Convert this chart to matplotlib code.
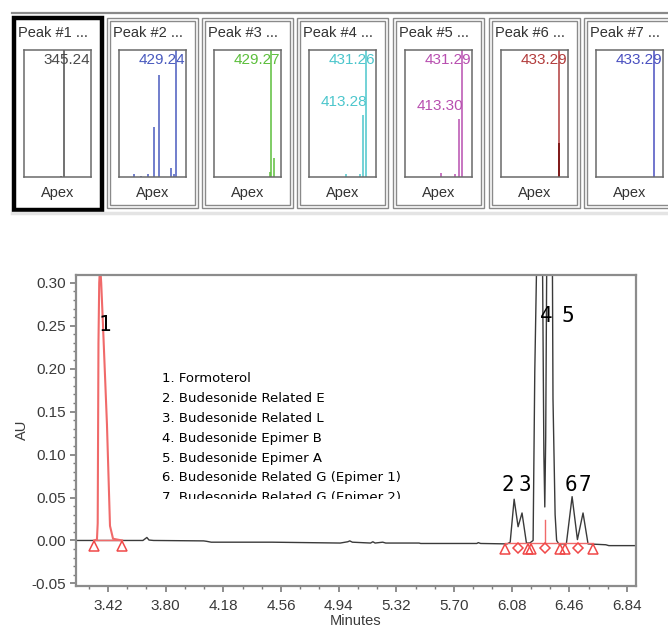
import numpy as np
import matplotlib.pyplot as plt
from matplotlib.patches import Rectangle
from matplotlib.ticker import MultipleLocator

W, H = 668, 627

# --- chromatogram (minutes, AU) ---
trace_t = [3.209, 3.330, 3.50, 3.65, 3.665, 3.676, 3.69, 3.72, 4.05, 4.07, 4.10, 4.50,
           4.95, 5.000, 5.013, 5.03, 5.15, 5.165, 5.18, 5.23, 5.25, 5.47, 5.48, 5.85,
           5.86, 5.875, 6.05, 6.07, 6.096, 6.122, 6.148, 6.177, 6.199, 6.221, 6.232,
           6.245, 6.262, 6.276, 6.284, 6.292, 6.298, 6.304, 6.311, 6.330, 6.348, 6.352,
           6.366, 6.376, 6.39, 6.44, 6.478, 6.513, 6.550, 6.583, 6.70, 6.72, 6.899]
trace_au = [0.000, 0.000, 0.000, 0.000, 0.002, 0.0035, 0.0005, 0.000, -0.0005, -0.001,
            -0.002, -0.002, -0.003, -0.0015, -0.0005, -0.002, -0.003, -0.0015, -0.003,
            -0.002, -0.003, -0.003, -0.0035, -0.0035, -0.0025, -0.0035, -0.004, -0.002,
            0.048, 0.016, 0.032, -0.003, -0.003, 0.000, 0.196, 0.33, 0.60, 0.50, 0.30,
            0.10, 0.039, 0.12, 0.33, 0.55, 0.33, 0.165, 0.03, 0.000, -0.004, -0.004,
            0.051, 0.001, 0.032, -0.004, -0.005, -0.006, -0.006]

peak1_t = [3.328, 3.347, 3.352, 3.357, 3.362, 3.368, 3.375, 3.387, 3.413, 3.433, 3.453, 3.512]
peak1_au = [0.000, 0.001, 0.020, 0.230, 0.300, 0.320, 0.300, 0.250, 0.135, 0.017, 0.002, 0.000]

base1_t = [3.328, 3.512]
base1_au = [0.000, 0.000]
base2_t = [6.034, 6.614]
base2_au = [-0.003, -0.003]
tri_t = [3.328, 3.512, 6.034, 6.188, 6.204, 6.396, 6.430, 6.614]
tri_au = [-0.006, -0.006, -0.010, -0.010, -0.010, -0.010, -0.010, -0.010]
dia_t = [6.120, 6.298, 6.515]
dia_au = [-0.009, -0.009, -0.009]
drop_t = 6.298
drop_au = [-0.003, 0.024]

peak_nums = ["1", "2", "3", "4", "5", "6", "7"]
peak_num_t = [3.400, 6.056, 6.164, 6.309, 6.449, 6.471, 6.560]
peak_num_au = [0.251, 0.064, 0.064, 0.261, 0.261, 0.064, 0.064]

peak_names = ["1. Formoterol",
              "2. Budesonide Related E",
              "3. Budesonide Related L",
              "4. Budesonide Epimer B",
              "5. Budesonide Epimer A",
              "6. Budesonide Related G (Epimer 1)",
              "7. Budesonide Related G (Epimer 2)"]

xticks = [3.42, 3.80, 4.18, 4.56, 4.94, 5.32, 5.70, 6.08, 6.46, 6.84]
yticks = [-0.05, 0.00, 0.05, 0.10, 0.15, 0.20, 0.25, 0.30]

# --- apex spectra thumbnails (m/z, relative intensity) ---
spec_titles = ["Peak #1 ...", "Peak #2 ...", "Peak #3 ...", "Peak #4 ...",
               "Peak #5 ...", "Peak #6 ...", "Peak #7 ..."]
spec_mz = [[330, 345.24],
           [222, 258, 291, 319, 345, 406, 419, 429.24],
           [426, 429.27, 446],
           [329, 400, 413.28, 431.26],
           [325, 395, 413.30, 431.29],
           [433.29],
           [433.29]]
spec_int = [[0.01, 1.0],
            [0.02, 0.01, 0.02, 0.39, 0.80, 0.07, 0.02, 1.0],
            [0.04, 1.0, 0.15],
            [0.02, 0.02, 0.49, 1.0],
            [0.03, 0.02, 0.46, 1.0],
            [1.0],
            [1.0]]
spec_top = ["345.24", "429.24", "429.27", "431.26", "431.29", "433.29", "433.29"]
spec_second = [None, None, None, "413.28", "413.30", None, None]
spec_colors = ["#4a4a4a", "#4a5bbf", "#5cbf3c", "#4cc6cc", "#b84fb0", "#b23c3c", "#4a50c0"]

plt.rcParams['font.family'] = ['Liberation Sans', 'DejaVu Sans']


def fig_rect(x0, y0, x1, y1):
    return [x0 / W, 1 - y1 / H, (x1 - x0) / W, (y1 - y0) / H]


def fig_box(x0, y0, x1, y1, **kw):
    r = Rectangle((x0 / W, 1 - y1 / H), (x1 - x0) / W, (y1 - y0) / H,
                  transform=fig.transFigure, fill=False, **kw)
    fig.add_artist(r)


fig = plt.figure(figsize=(W / 100, H / 100), dpi=100)

# top strip
fig.add_artist(plt.Line2D([12 / W, 1], [1 - 13 / H] * 2, transform=fig.transFigure,
                          color="#8a8a8a", lw=1.6))
fig.add_artist(plt.Line2D([12 / W, 1], [1 - 213 / H] * 2, transform=fig.transFigure,
                          color="#e4e4e4", lw=2.5))

box_left = [12, 107, 202, 297, 393, 489, 584]
for i in range(7):
    bl = box_left[i]
    if i == 0:
        fig_box(bl + 2, 18, bl + 90, 210, edgecolor="black", lw=3.2)
    else:
        fig_box(bl, 18, bl + 91, 208, edgecolor="#8a8a8a", lw=1.0)
        fig_box(bl + 3, 21, bl + 88, 205, edgecolor="#8a8a8a", lw=1.0)
    fig.text((bl + 6) / W, 1 - 33 / H, spec_titles[i], fontsize=10.5, color="#333333",
             ha="left", va="center")
    fig.text((bl + 46) / W, 1 - 193 / H, "Apex", fontsize=10.5, color="#333333",
             ha="center", va="center")

    ax_s = fig.add_axes(fig_rect(bl + 12, 50, bl + 79, 177))
    ax_s.set_xlim(150, 478)
    ax_s.set_ylim(0, 1.0)
    ax_s.set_xticks([])
    ax_s.set_yticks([])
    for s in ax_s.spines.values():
        s.set_color("#6a6a6a")
        s.set_linewidth(1.1)
    ax_s.vlines(spec_mz[i], 0, spec_int[i], color=spec_colors[i], lw=1.1)
    if i == 5:
        ax_s.vlines([433.29], 0, 0.27, color="#7a1414", lw=1.3)
    ax_s.text(0.99, 0.92, spec_top[i], transform=ax_s.transAxes, ha="right", va="center",
              fontsize=11, color=spec_colors[i])
    if spec_second[i] is not None:
        k = spec_mz[i].index(float(spec_second[i]))
        ax_s.annotate(spec_second[i], xy=(spec_mz[i][k], spec_int[i][k]), xytext=(3, 4),
                      textcoords="offset points", ha="right", va="bottom",
                      fontsize=11, color=spec_colors[i], annotation_clip=False)

# chromatogram
ax = fig.add_axes(fig_rect(76, 275, 636, 586))
ax.plot(trace_t, trace_au, color="#3a3a3a", lw=1.0)
ax.plot(peak1_t, peak1_au, color="#f06a6a", lw=1.5)
ax.plot(base1_t, base1_au, color="#f06a6a", lw=1.0)
ax.plot(base2_t, base2_au, color="#f06a6a", lw=1.0)
ax.plot([drop_t, drop_t], drop_au, color="#f06a6a", lw=1.0)
ax.plot(tri_t, tri_au, ls="none", marker="^", ms=7, mfc="none", mec="#f04848", mew=1.1)
ax.plot(dia_t, dia_au, ls="none", marker="D", ms=5, mfc="none", mec="#f04848", mew=1.1)

for lab, t, a in zip(peak_nums, peak_num_t, peak_num_au):
    ax.text(t, a, lab, ha="center", va="center", fontsize=15, color="black",
            family="DejaVu Sans Mono")

ax.set_xlim(3.209, 6.899)
ax.set_ylim(-0.053, 0.309)
ax.set_xticks(xticks)
ax.set_xticklabels(["%.2f" % v for v in xticks])
ax.set_yticks(yticks)
ax.set_yticklabels(["%.2f" % v for v in yticks])
ax.xaxis.set_minor_locator(MultipleLocator(0.38 / 3))
ax.yaxis.set_minor_locator(MultipleLocator(0.01))
ax.tick_params(which="both", direction="out", color="#7a7a7a", labelcolor="#3a3a3a",
               labelsize=11)
ax.tick_params(which="major", length=4, width=1.2, pad=3)
ax.tick_params(which="minor", length=2.5, width=1.0)
ax.tick_params(axis="x", which="major", pad=5)
for s in ax.spines.values():
    s.set_color("#8c8c8c")
    s.set_linewidth(1.6)

fig.text(22 / W, 1 - 430 / H, "AU", rotation=90, ha="center", va="center",
         fontsize=10.5, color="#3a3a3a")
fig.text(356 / W, 1 - 621 / H, "Minutes", ha="center", va="center",
         fontsize=10.5, color="#3a3a3a")

# peak list, last line clipped as in the original
ax_l = fig.add_axes(fig_rect(158, 368, 430, 499))
ax_l.axis("off")
for j, name in enumerate(peak_names):
    yc = 379 + j * 19.8
    ax_l.text(0.015, (499 - yc) / 131, name, transform=ax_l.transAxes, ha="left",
              va="center", fontsize=9.5, color="black", family="DejaVu Sans",
              clip_on=True)

fig.savefig("out.png", dpi=100)
